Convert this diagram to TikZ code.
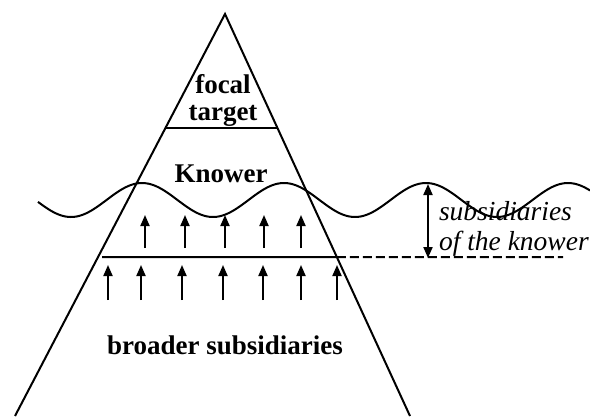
\documentclass[tikz,border=0pt]{standalone}
\usepackage{fontspec}
\setmainfont{Liberation Serif}
\usetikzlibrary{arrows.meta,calc}
\begin{document}
\begin{tikzpicture}[x=1pt,y=-1pt,line width=2pt,line join=miter,
  tip/.style={Triangle[length=11pt,width=9pt]},
  uparrow/.style={-{Triangle[length=11pt,width=9pt]},line width=2pt},
  bold label/.style={font=\fontsize{27}{30}\selectfont\bfseries,inner sep=0pt,anchor=base},
  ital label/.style={font=\fontsize{27.5}{30}\selectfont\itshape,inner sep=0pt,anchor=base west}]
\useasboundingbox (0,0) rectangle (590,416);
% triangle
\coordinate (apex) at (225,14);
\coordinate (bl) at (15,416);
\coordinate (br) at (410,416);
\draw (bl) -- (apex) -- (br);
% focal target line
\coordinate (ftl) at ($(apex)!0.2836!(bl)$);
\coordinate (ftr) at ($(apex)!0.2836!(br)$);
\draw (ftl) -- (ftr);
% lower line and dashed extension
\coordinate (ll) at (102,257);
\coordinate (lr) at ($(apex)!0.6045!(br)$);
\coordinate (dend) at (563,257);
\draw (ll) -- (lr);
\draw[dash pattern=on 9pt off 4pt] (lr) -- (dend);
% wave
\draw plot[domain=38:590,samples=220,smooth] (\x,{200-17*cos((\x-142)/142*360)});
% upper arrows
\foreach \i/\x in {1/145,2/185,3/225,4/264,5/301}{
  \coordinate (ua\i) at (\x,248);
  \coordinate (ut\i) at (\x,215);
  \draw[uparrow] (ua\i) -- (ut\i);
}
% lower arrows
\foreach \i/\x in {1/108,2/141,3/182,4/223,5/263,6/301,7/337}{
  \coordinate (la\i) at (\x,300);
  \coordinate (lt\i) at (\x,265);
  \draw[uparrow] (la\i) -- (lt\i);
}
% double arrow
\coordinate (dtop) at (428,184);
\coordinate (dbot) at (428,258);
\draw[{Triangle[length=11pt,width=9pt]}-{Triangle[length=11pt,width=9pt]}] (dtop) -- (dbot);
% labels
\node[bold label] (focal) at (223,93) {focal};
\node[bold label] (target) at (223,120) {target};
\node[bold label] (knower) at (221,182) {Knower};
\node[bold label] (broader) at (225,354) {broader subsidiaries};
\node[ital label] (subs) at (438,220) {subsidiaries};
\node[ital label] (ofk) at (438,250) {of the knower};
\end{tikzpicture}
\end{document}
